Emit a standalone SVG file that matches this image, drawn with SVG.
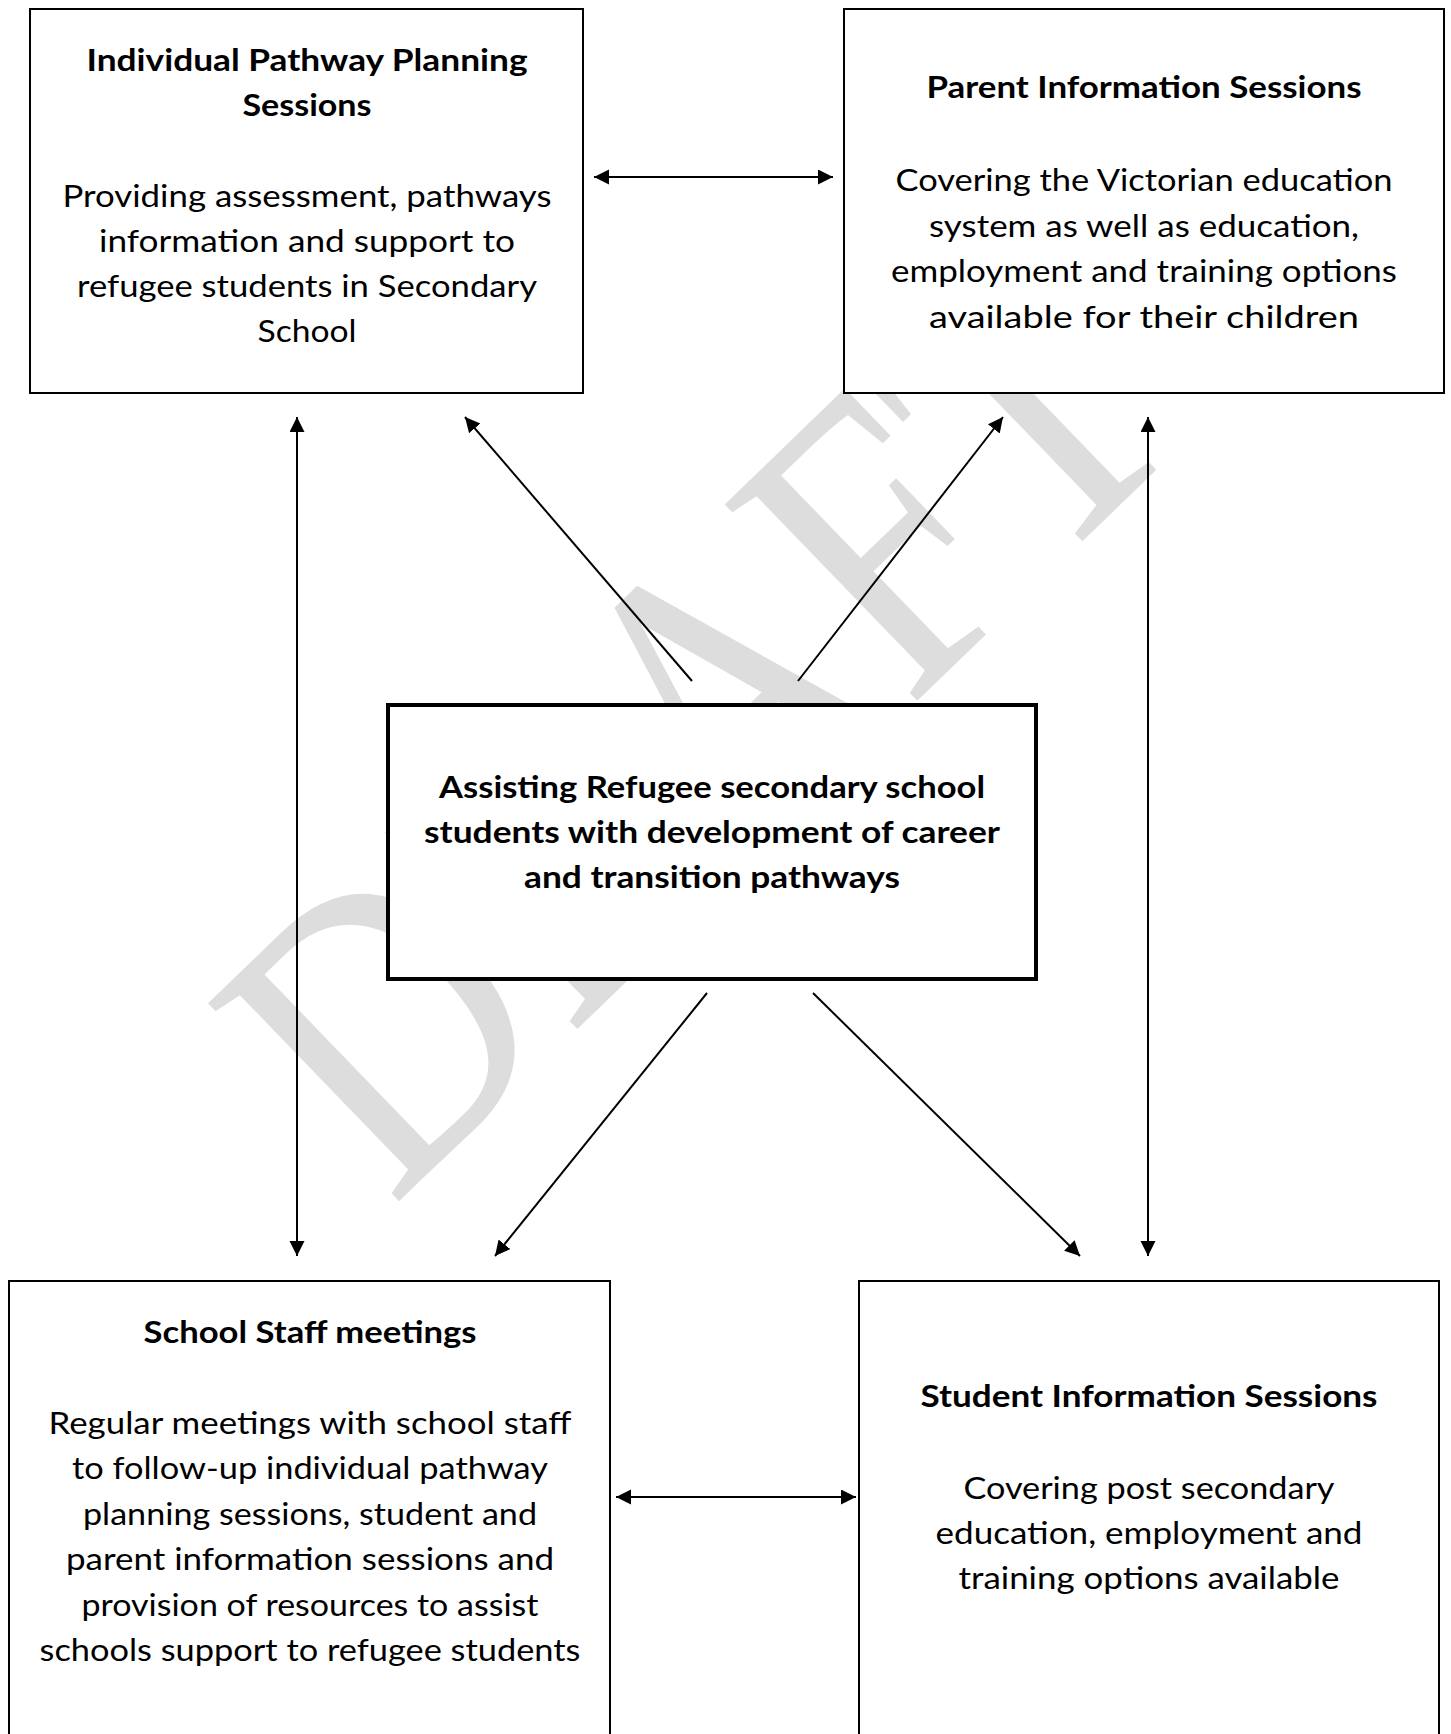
<svg xmlns="http://www.w3.org/2000/svg" width="1451" height="1734" viewBox="0 0 1451 1734">
<style>
.box{fill:#ffffff;stroke:#000000;stroke-width:2}
.main{fill:#ffffff;stroke:#000000;stroke-width:4}
.t{font-family:Lato,"Open Sans","Liberation Sans",sans-serif;font-size:30px;fill:#000000;text-anchor:middle}
.b{font-weight:bold}
.wm{font-family:"Liberation Serif","DejaVu Serif",serif;font-size:420px;fill:#dddddd}
.c{stroke:#000000;stroke-width:2;fill:none}
</style>
<defs>
<marker id="ah" markerUnits="userSpaceOnUse" markerWidth="16" markerHeight="16" viewBox="0 0 16 16" refX="15" refY="7.5" orient="auto-start-reverse">
<path d="M0,0 L15,7.5 L0,15 z" fill="#000000"/>
</marker>
</defs>
<rect width="1451" height="1734" fill="#ffffff"/>
<g id="watermark">
<text class="wm" transform="translate(392,1208) rotate(-44) scale(0.81,1)" x="0" y="0">DRAFT</text>
</g>
<g id="node-ipp">
<rect class="box" x="30" y="9" width="553" height="384"/>
<text class="t b" x="307" y="71" textLength="441" lengthAdjust="spacingAndGlyphs">Individual Pathway Planning</text>
<text class="t b" x="307" y="116" textLength="129" lengthAdjust="spacingAndGlyphs">Sessions</text>
<text class="t" x="307" y="207" textLength="489" lengthAdjust="spacingAndGlyphs">Providing assessment, pathways</text>
<text class="t" x="307" y="252" textLength="416" lengthAdjust="spacingAndGlyphs">information and support to</text>
<text class="t" x="307" y="297" textLength="460" lengthAdjust="spacingAndGlyphs">refugee students in Secondary</text>
<text class="t" x="307" y="342" textLength="99" lengthAdjust="spacingAndGlyphs">School</text>
</g>
<g id="node-parent">
<rect class="box" x="844" y="9" width="600" height="384"/>
<text class="t b" x="1144" y="98" textLength="435" lengthAdjust="spacingAndGlyphs">Parent Information Sessions</text>
<text class="t" x="1144" y="191" textLength="497" lengthAdjust="spacingAndGlyphs">Covering the Victorian education</text>
<text class="t" x="1144" y="236.5" textLength="430" lengthAdjust="spacingAndGlyphs">system as well as education,</text>
<text class="t" x="1144" y="282" textLength="506" lengthAdjust="spacingAndGlyphs">employment and training options</text>
<text class="t" x="1144" y="327.5" textLength="430" lengthAdjust="spacingAndGlyphs">available for their children</text>
</g>
<g id="node-center">
<rect class="main" x="388" y="705" width="648" height="274"/>
<text class="t b" x="712" y="798" textLength="546" lengthAdjust="spacingAndGlyphs">Assisting Refugee secondary school</text>
<text class="t b" x="712" y="843" textLength="576" lengthAdjust="spacingAndGlyphs">students with development of career</text>
<text class="t b" x="712" y="888" textLength="376" lengthAdjust="spacingAndGlyphs">and transition pathways</text>
</g>
<g id="node-staff">
<rect class="box" x="9" y="1281" width="601" height="470"/>
<text class="t b" x="310" y="1343" textLength="333" lengthAdjust="spacingAndGlyphs">School Staff meetings</text>
<text class="t" x="310" y="1433.5" textLength="523" lengthAdjust="spacingAndGlyphs">Regular meetings with school staff</text>
<text class="t" x="310" y="1479" textLength="476" lengthAdjust="spacingAndGlyphs">to follow-up individual pathway</text>
<text class="t" x="310" y="1524.5" textLength="454" lengthAdjust="spacingAndGlyphs">planning sessions, student and</text>
<text class="t" x="310" y="1570" textLength="488" lengthAdjust="spacingAndGlyphs">parent information sessions and</text>
<text class="t" x="310" y="1615.5" textLength="457" lengthAdjust="spacingAndGlyphs">provision of resources to assist</text>
<text class="t" x="310" y="1661" textLength="541" lengthAdjust="spacingAndGlyphs">schools support to refugee students</text>
</g>
<g id="node-student">
<rect class="box" x="859" y="1281" width="580" height="470"/>
<text class="t b" x="1149" y="1407" textLength="457" lengthAdjust="spacingAndGlyphs">Student Information Sessions</text>
<text class="t" x="1149" y="1499" textLength="371" lengthAdjust="spacingAndGlyphs">Covering post secondary</text>
<text class="t" x="1149" y="1544" textLength="427" lengthAdjust="spacingAndGlyphs">education, employment and</text>
<text class="t" x="1149" y="1589" textLength="381" lengthAdjust="spacingAndGlyphs">training options available</text>
</g>
<g id="connectors">
<line class="c" x1="594" y1="177" x2="833" y2="177" marker-start="url(#ah)" marker-end="url(#ah)"/>
<line class="c" x1="297" y1="417" x2="297" y2="1256" marker-start="url(#ah)" marker-end="url(#ah)"/>
<line class="c" x1="1148" y1="417" x2="1148" y2="1256" marker-start="url(#ah)" marker-end="url(#ah)"/>
<line class="c" x1="692" y1="681" x2="465" y2="417" marker-end="url(#ah)"/>
<line class="c" x1="798" y1="681" x2="1003" y2="417" marker-end="url(#ah)"/>
<line class="c" x1="707" y1="993" x2="495" y2="1256" marker-end="url(#ah)"/>
<line class="c" x1="813" y1="993" x2="1080" y2="1256" marker-end="url(#ah)"/>
<line class="c" x1="616" y1="1497" x2="856" y2="1497" marker-start="url(#ah)" marker-end="url(#ah)"/>
</g>
</svg>
